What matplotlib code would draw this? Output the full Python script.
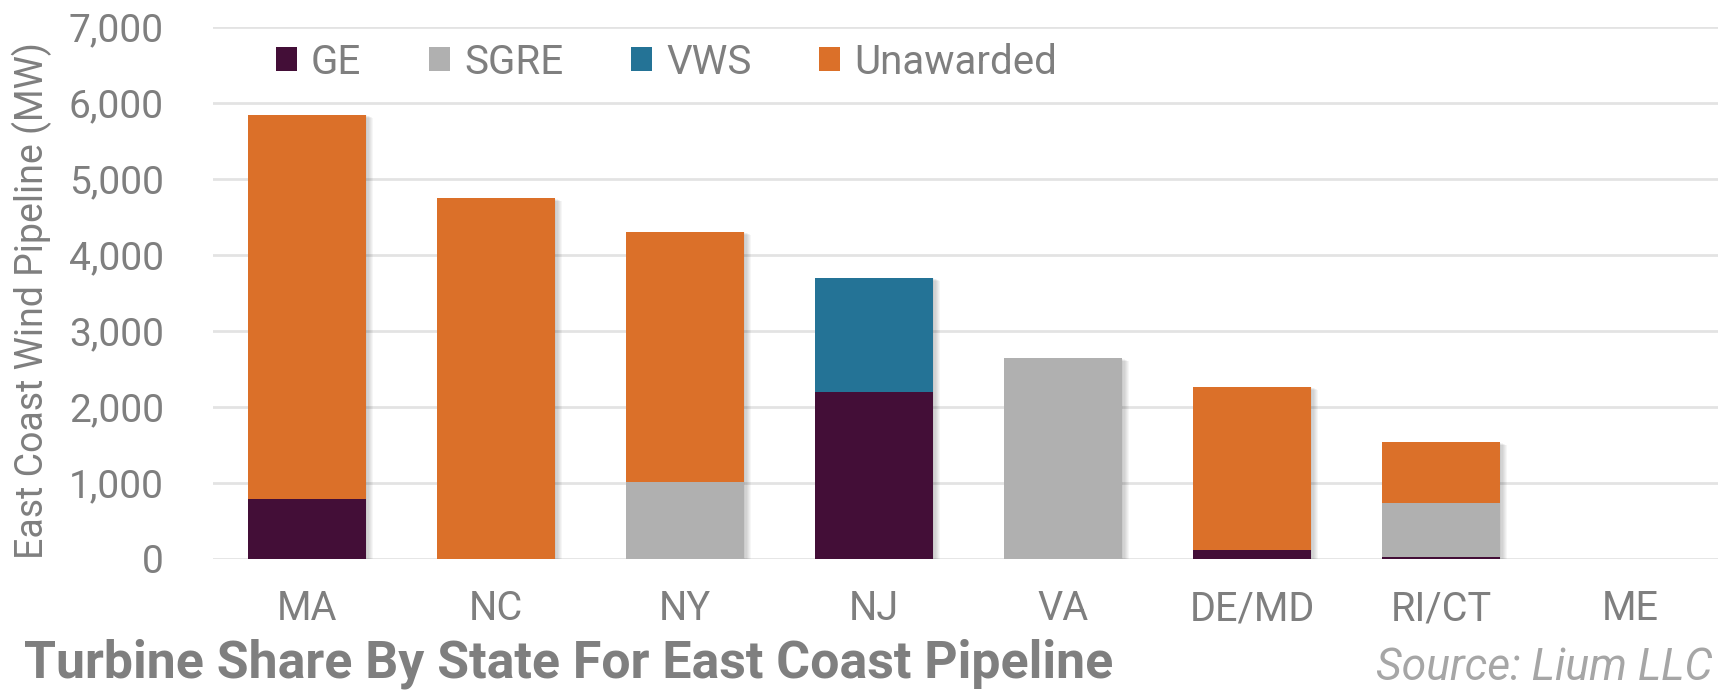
import numpy as np
import matplotlib
matplotlib.use("Agg")
import matplotlib.pyplot as plt
from matplotlib.patches import Patch
from matplotlib.transforms import offset_copy

# data (MW)
states = ['MA', 'NC', 'NY', 'NJ', 'VA', 'DE/MD', 'RI/CT', 'ME']
ge = [790, 0, 0, 2190, 0, 115, 25, 0]
sgre = [0, 0, 1010, 0, 2640, 0, 705, 0]
vws = [0, 0, 0, 1510, 0, 0, 0, 0]
unawarded = [5050, 4740, 3290, 0, 0, 2150, 800, 0]

series_names = ['GE', 'SGRE', 'VWS', 'Unawarded']
series_colors = ['#430E37', '#B0B0B0', '#247396', '#DB7029']
yticks = [0, 1000, 2000, 3000, 4000, 5000, 6000, 7000]

TEXT_GRAY = '#7F7F7F'
plt.rcParams['font.family'] = ['Roboto', 'DejaVu Sans']

fig = plt.figure(figsize=(17.18, 6.9), dpi=100)
ax = fig.add_axes([212.7 / 1718, 1 - 558.7 / 690, 1512 / 1718, (558.7 - 26.7) / 690])

x = np.arange(len(states))
width = 0.625
series = [np.array(ge), np.array(sgre), np.array(vws), np.array(unawarded)]
totals = np.sum(series, axis=0)

# soft drop shadow behind each stacked bar
for k in range(1, 7):
    tr = offset_copy(ax.transData, fig=fig, x=k * 1.2, y=-k * 0.5, units='dots')
    ax.bar(x, totals, width, color='black', alpha=0.035, transform=tr, zorder=1,
           linewidth=0)

bottom = np.zeros(len(states))
for vals, name, col in zip(series, series_names, series_colors):
    ax.bar(x, vals, width, bottom=bottom, color=col, label=name, zorder=2, linewidth=0)
    bottom += vals

ax.set_xlim(-0.5, len(states) - 0.5)
ax.set_ylim(0, 7000)
ax.set_yticks(yticks)
ax.set_yticklabels([f'{v:,}' for v in yticks])
ax.set_xticks(x)
ax.set_xticklabels(states)
ax.grid(axis='y', color='#E3E3E3', linewidth=2, zorder=0)
ax.set_axisbelow(True)
for s in ax.spines.values():
    s.set_visible(False)
ax.tick_params(axis='y', length=0, pad=35, labelsize=28, labelcolor=TEXT_GRAY)
ax.tick_params(axis='x', length=0, pad=22, labelsize=28.5, labelcolor=TEXT_GRAY)

ax.set_ylabel('East Coast Wind Pipeline (MW)', fontsize=27, color=TEXT_GRAY)
ax.yaxis.set_label_coords(-0.106, 0.485)

handles = [Patch(facecolor=c, edgecolor='none') for c in series_colors]
fig.legend(handles, series_names, loc='center left', bbox_to_anchor=(276 / 1718, 1 - 62 / 690),
           ncol=4, frameon=False, fontsize=29, labelcolor=TEXT_GRAY,
           handlelength=0.52, handleheight=0.52, handletextpad=0.35, columnspacing=1.68,
           borderpad=0, borderaxespad=0)

fig.text(24 / 1718, 1 - 664 / 690, 'Turbine Share By State For East Coast Pipeline',
         fontsize=37.4, fontweight='bold', color=TEXT_GRAY, ha='left', va='center')
fig.text(0.997, 1 - 668 / 690, 'Source: Lium LLC', fontsize=32, style='italic',
         color='#A6A6A6', ha='right', va='center')

fig.savefig('out.png', dpi=100)
